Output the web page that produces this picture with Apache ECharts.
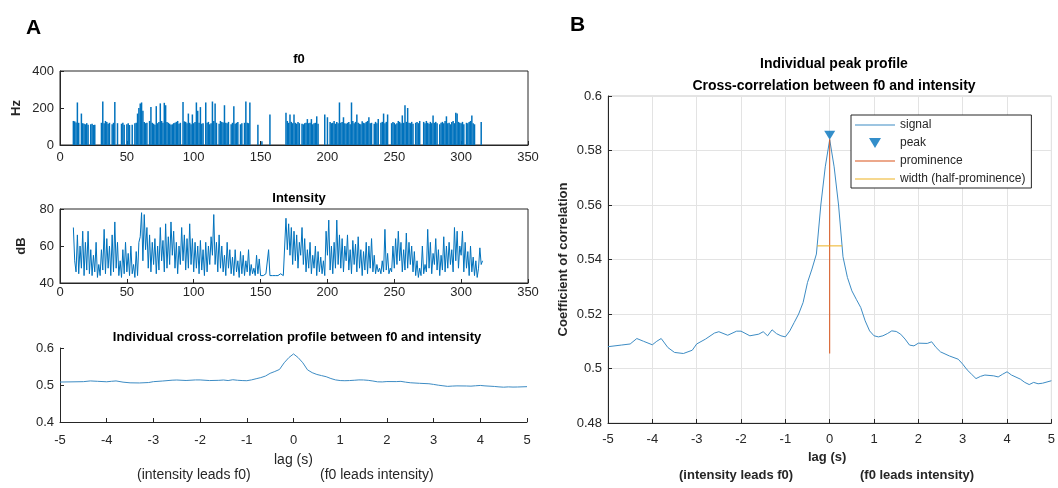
<!DOCTYPE html>
<html>
<head>
<meta charset="utf-8">
<script src="https://cdn.jsdelivr.net/npm/echarts@6/dist/echarts.min.js"></script>
<style>
html,body{margin:0;padding:0;background:#fff;}
#chart{width:1058px;height:488px;}
</style>
</head>
<body>
<div id="chart"></div>
<script>
// ---------- DATA ----------
const f0StartTime = 10; // seconds, first sample
const f0Hz = [
130,128,122,230,120,0,170,118,115,112,
118,110,0,112,115,108,110,0,0,0,
0,120,235,118,130,125,115,120,0,112,
120,232,0,118,0,0,115,120,110,0,
112,118,108,0,110,0,118,120,170,200,
225,230,185,125,118,120,0,130,205,120,
115,110,210,118,125,225,130,120,228,215,
125,120,115,110,112,118,120,125,130,115,
120,0,232,128,125,118,170,120,112,165,
118,125,230,185,120,205,115,118,0,230,
120,125,112,118,235,130,225,120,0,115,
130,125,122,215,120,118,125,0,112,120,
210,115,120,125,0,112,118,0,120,235,
120,118,230,0,0,0,0,0,110,0,
0,20,0,0,0,0,0,165,0,0,
0,0,0,0,0,0,0,0,0,175,
130,120,165,125,118,165,120,115,125,118,
0,115,112,118,120,140,118,120,140,112,
118,120,155,115,0,0,0,0,165,0,
150,0,125,118,120,130,115,125,118,230,
120,125,150,118,115,120,125,112,230,130,
118,125,165,120,115,112,128,120,118,125,
130,150,118,120,0,115,125,118,140,0,
120,125,170,118,125,165,0,0,118,125,
120,112,118,130,125,118,160,120,215,125,
200,120,118,125,115,0,120,125,118,130,
0,0,125,118,130,120,115,125,118,160,
120,125,118,0,112,120,125,118,130,155,
118,120,112,125,130,118,175,170,125,120,
118,125,112,0,120,118,125,130,160,118,
112,0,0,0,0,125,0
];
const intensityDb = [
70,52,46,66,45,60,48,68,44,62,
47,68,45,58,44,55,46,62,43,50,
44,58,47,69,45,64,48,60,44,66,
46,73,48,62,44,52,43,58,45,62,
46,56,44,60,45,50,43,57,44,62,
65,78,52,77,58,70,48,66,46,62,
50,64,45,60,47,70,52,63,46,72,
48,65,50,73,55,68,48,62,45,60,
50,70,52,66,47,64,48,72,50,64,
46,62,48,60,45,63,47,58,44,62,
46,60,50,65,55,77,50,62,46,66,
48,60,46,55,44,62,48,58,45,54,
44,58,46,52,43,57,45,55,44,52,
46,58,44,50,45,48,44,55,45,53,
44,45,44,44,45,44,58,44,45,44,
44,44,45,44,44,45,44,44,44,75,
58,72,55,70,50,68,52,66,48,62,
55,70,50,64,46,58,48,62,45,55,
48,60,44,57,46,54,45,52,44,68,
55,74,47,60,45,62,48,74,50,66,
48,64,46,60,52,66,47,58,45,63,
50,61,46,65,48,58,44,57,47,62,
45,60,48,64,46,55,45,50,46,48,
45,52,46,69,47,56,45,48,46,60,
48,64,50,68,52,62,46,58,47,67,
48,62,50,60,46,57,44,52,43,48,
44,60,45,50,46,69,48,62,45,56,
50,64,47,58,44,55,47,65,46,60,
48,62,50,58,46,70,52,68,48,60,
55,68,46,62,48,57,44,60,46,54,
44,52,43,48,59,50,52
];
const lagS = [-5,-4.7,-4.5,-4.35,-4.2,-4.0,-3.9,-3.8,-3.65,-3.5,
-3.3,-3.1,-3.0,-2.8,-2.6,-2.5,-2.3,-2.1,-2.0,-1.8,
-1.6,-1.5,-1.4,-1.3,-1.2,-1.1,-1.0,-0.9,-0.8,-0.7,
-0.6,-0.5,-0.4,-0.3,-0.2,-0.1,0,0.1,0.2,0.3,
0.4,0.5,0.6,0.7,0.8,0.9,1.0,1.1,1.2,1.3,
1.4,1.5,1.6,1.7,1.8,1.9,2.0,2.2,2.3,2.4,
2.5,2.7,2.9,3.0,3.1,3.2,3.3,3.4,3.5,3.7,
3.8,3.9,4.0,4.1,4.3,4.4,4.5,4.6,4.7,4.8,5.0];
const xcorrR = [0.508,0.5086,0.509,0.511,0.510,0.5087,0.510,0.511,0.5077,0.5059,
0.5055,0.5067,0.509,0.5108,0.513,0.5135,0.5122,0.5137,0.5137,0.512,
0.5126,0.5135,0.512,0.5142,0.5128,0.512,0.5116,0.5138,0.5169,0.52,
0.5242,0.5316,0.5365,0.542,0.560,0.574,0.584,0.574,0.560,0.541,
0.5334,0.5285,0.5254,0.5224,0.5175,0.5138,0.512,0.5116,0.512,0.5128,
0.5138,0.5136,0.5126,0.5108,0.5086,0.5083,0.5093,0.5092,0.5098,0.5077,
0.5061,0.5046,0.5034,0.5016,0.4995,0.4979,0.4963,0.4971,0.4976,0.4973,
0.4969,0.4979,0.4988,0.4976,0.4961,0.4949,0.4941,0.4949,0.4944,0.4946,0.4955];
const peakLag = [0];
const peakR = [0.5856];
const prominenceBaseR = [0.5055];
const widthLagBounds = [-0.28, 0.28];
const widthLevelR = [0.545];
const legendNames = ['signal', 'peak', 'prominence', 'width (half-prominence)'];

// ---------- CHART ----------
const FONT = '"Liberation Sans", Arial, sans-serif';
const TXT = '#262626';
const BLUE = '#0072BD';
const times = f0Hz.map((_, i) => f0StartTime + i);

function axisCommon(extra) {
  return Object.assign({
    axisLine: { show: true, onZero: false, lineStyle: { color: TXT, width: 1 } },
    axisTick: { show: true, inside: true, length: 4, lineStyle: { color: TXT } },
    axisLabel: { color: TXT, fontSize: 13, fontFamily: FONT },
    splitLine: { show: false },
    nameTextStyle: { color: TXT, fontSize: 13, fontWeight: 'bold', fontFamily: FONT }
  }, extra);
}

const chart = echarts.init(document.getElementById('chart'), null, { renderer: 'canvas' });

const titleStyle = (size) => ({ fontSize: size, fontWeight: 'bold', color: '#000', fontFamily: FONT });

const option = {
  animation: false,
  backgroundColor: '#fff',
  textStyle: { fontFamily: FONT },
  title: [
    { text: 'A', left: 21, top: 13, textStyle: titleStyle(21) },
    { text: 'B', left: 565, top: 10, textStyle: titleStyle(21) },
    { text: 'f0', left: 294, top: 48, textAlign: 'center', textStyle: titleStyle(13) },
    { text: 'Intensity', left: 294, top: 187, textAlign: 'center', textStyle: titleStyle(13) },
    { text: 'Individual cross-correlation profile between f0 and intensity', left: 292, top: 326, textAlign: 'center', textStyle: titleStyle(13) },
    { text: 'Individual peak profile', left: 829, top: 52, textAlign: 'center', textStyle: titleStyle(14) },
    { text: 'Cross-correlation between f0 and intensity', left: 829, top: 74, textAlign: 'center', textStyle: titleStyle(14) }
  ],
  graphic: [
    { type: 'text', left: 274, top: 453, style: { text: 'lag (s)', fill: TXT, font: '14px ' + FONT } },
    { type: 'text', left: 137, top: 468, style: { text: '(intensity leads f0)', fill: TXT, font: '14px ' + FONT } },
    { type: 'text', left: 320, top: 468, style: { text: '(f0 leads intensity)', fill: TXT, font: '14px ' + FONT } },
    { type: 'text', left: 808, top: 451, style: { text: 'lag (s)', fill: TXT, font: 'bold 13px ' + FONT } },
    { type: 'text', left: 679, top: 469, style: { text: '(intensity leads f0)', fill: TXT, font: 'bold 13px ' + FONT } },
    { type: 'text', left: 860, top: 469, style: { text: '(f0 leads intensity)', fill: TXT, font: 'bold 13px ' + FONT } }
  ],
  grid: [
    { left: 60, top: 71, width: 468, height: 74, show: true, borderColor: TXT, borderWidth: 1, backgroundColor: 'transparent' },
    { left: 60, top: 209, width: 468, height: 74, show: true, borderColor: TXT, borderWidth: 1, backgroundColor: 'transparent' },
    { left: 60, top: 348, width: 467, height: 74 },
    { left: 608, top: 96, width: 444, height: 327, show: true, borderColor: '#c8c8c8', borderWidth: 1, backgroundColor: 'transparent' }
  ],
  xAxis: [
    axisCommon({ type: 'value', gridIndex: 0, min: 0, max: 350, interval: 50, axisLabel: { color: TXT, fontSize: 13, fontFamily: FONT, margin: 6 } }),
    axisCommon({ type: 'value', gridIndex: 1, min: 0, max: 350, interval: 50, axisLabel: { color: TXT, fontSize: 13, fontFamily: FONT, margin: 3 } }),
    axisCommon({ type: 'value', gridIndex: 2, min: -5, max: 5, interval: 1, axisLabel: { color: TXT, fontSize: 13, fontFamily: FONT, margin: 12 } }),
    axisCommon({ type: 'value', gridIndex: 3, min: -5, max: 5, interval: 1,
      axisLabel: { color: TXT, fontSize: 13, fontFamily: FONT, margin: 10 },
      splitLine: { show: true, lineStyle: { color: '#e3e3e3', width: 1 } } })
  ],
  yAxis: [
    axisCommon({ type: 'value', gridIndex: 0, min: 0, max: 400, interval: 200, name: 'Hz', nameLocation: 'middle', nameGap: 37,
      axisLabel: { color: TXT, fontSize: 13, fontFamily: FONT, margin: 6 } }),
    axisCommon({ type: 'value', gridIndex: 1, min: 40, max: 80, interval: 20, name: 'dB', nameLocation: 'middle', nameGap: 32,
      axisLabel: { color: TXT, fontSize: 13, fontFamily: FONT, margin: 6 } }),
    axisCommon({ type: 'value', gridIndex: 2, min: 0.4, max: 0.6, interval: 0.1,
      axisLabel: { color: TXT, fontSize: 13, fontFamily: FONT, margin: 6 } }),
    axisCommon({ type: 'value', gridIndex: 3, min: 0.48, max: 0.6, interval: 0.02, name: 'Coefficient of correlation', nameLocation: 'middle', nameGap: 38,
      axisLabel: { color: TXT, fontSize: 13, fontFamily: FONT, margin: 6 },
      splitLine: { show: true, lineStyle: { color: '#e3e3e3', width: 1 } } })
  ],
  legend: {
    left: 851, top: 115, orient: 'vertical',
    backgroundColor: '#fff', borderColor: TXT, borderWidth: 1,
    padding: [4, 6, 3, 4], itemGap: 6, itemWidth: 40, itemHeight: 10,
    textStyle: { color: TXT, fontSize: 12, fontFamily: FONT },
    data: [
      { name: legendNames[0], icon: 'path://M0,0H40V1.2H0Z' },
      { name: legendNames[1], icon: 'path://M0,0L12,0L6,10Z' },
      { name: legendNames[2], icon: 'path://M0,0H40V1.2H0Z' },
      { name: legendNames[3], icon: 'path://M0,0H40V1.2H0Z' }
    ]
  },
  series: [
    { name: 'f0', type: 'bar', xAxisIndex: 0, yAxisIndex: 0, barWidth: 1.5,
      data: f0Hz.map((v, i) => [times[i], v]), itemStyle: { color: BLUE }, silent: true },
    { name: 'intensity', type: 'line', xAxisIndex: 1, yAxisIndex: 1, showSymbol: false,
      data: intensityDb.map((v, i) => [times[i], v]), lineStyle: { color: BLUE, width: 1 }, itemStyle: { color: BLUE }, silent: true },
    { name: 'xcorrA', type: 'line', xAxisIndex: 2, yAxisIndex: 2, showSymbol: false, smooth: false,
      data: lagS.map((l, i) => [l, xcorrR[i]]), lineStyle: { color: '#3d8cc4', width: 1 }, itemStyle: { color: '#3d8cc4' }, silent: true },
    { name: legendNames[0], type: 'line', xAxisIndex: 3, yAxisIndex: 3, showSymbol: false,
      data: lagS.map((l, i) => [l, xcorrR[i]]), lineStyle: { color: '#3d8cc4', width: 1 }, itemStyle: { color: '#3d8cc4' }, silent: true },
    { name: legendNames[2], type: 'line', xAxisIndex: 3, yAxisIndex: 3, showSymbol: false,
      data: [[peakLag[0], prominenceBaseR[0]], [peakLag[0], peakR[0] - 0.0015]], lineStyle: { color: '#D95319', width: 1 }, itemStyle: { color: '#D95319' }, silent: true },
    { name: legendNames[3], type: 'line', xAxisIndex: 3, yAxisIndex: 3, showSymbol: false,
      data: [[widthLagBounds[0], widthLevelR[0]], [widthLagBounds[1], widthLevelR[0]]], lineStyle: { color: '#EDB120', width: 1 }, itemStyle: { color: '#EDB120' }, silent: true },
    { name: legendNames[1], type: 'scatter', xAxisIndex: 3, yAxisIndex: 3,
      symbol: 'path://M0,0L12,0L6,10Z', symbolSize: [11, 9],
      data: peakLag.map((l, i) => [l, peakR[i]]), itemStyle: { color: BLUE }, silent: true }
  ]
};
chart.setOption(option);
</script>
</body>
</html>
